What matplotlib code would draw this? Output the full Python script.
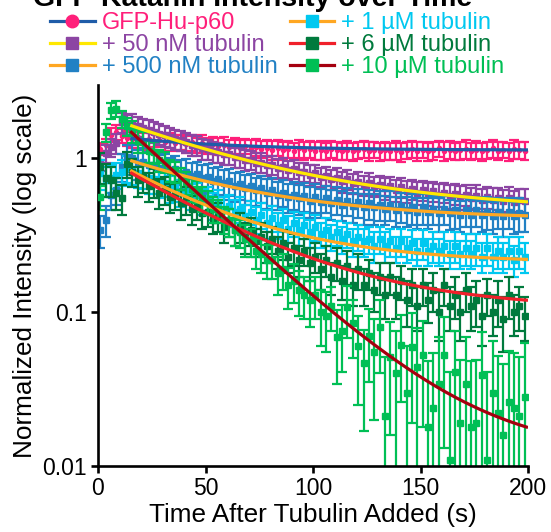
import numpy as np
import matplotlib
matplotlib.use("Agg")
import matplotlib.pyplot as plt
from matplotlib.lines import Line2D
from matplotlib.ticker import FixedLocator, NullLocator, FixedFormatter

plt.rcParams['font.family'] = ['Liberation Sans', 'DejaVu Sans']

# ---------------- data ----------------
time = 1 + 2.5 * np.arange(80)   # s, sampling every 2.5 s

labels = ["GFP-Hu-p60", "+ 50 nM tubulin", "+ 500 nM tubulin",
          "+ 1 µM tubulin", "+ 6 µM tubulin", "+ 10 µM tubulin"]

pink = [1.15, 1.22, 1.42, 1.48, 1.40, 1.36,
        1.33, 1.38, 1.30, 1.34, 1.29, 1.32, 1.27, 1.31, 1.26, 1.28,
        1.24, 1.27, 1.22, 1.25, 1.21, 1.24, 1.20, 1.22, 1.18, 1.21,
        1.17, 1.20, 1.16, 1.19, 1.15, 1.17, 1.14, 1.17, 1.13, 1.15,
        1.12, 1.16, 1.13, 1.15, 1.12, 1.14, 1.11, 1.15, 1.13, 1.12,
        1.14, 1.11, 1.13, 1.15, 1.12, 1.14, 1.11, 1.13, 1.12, 1.14,
        1.10, 1.13, 1.15, 1.12, 1.14, 1.11, 1.13, 1.16, 1.12, 1.14,
        1.11, 1.13, 1.15, 1.12, 1.14, 1.11, 1.13, 1.16, 1.12, 1.14,
        1.11, 1.15, 1.13, 1.12]
pink_err = [0.10, 0.12, 0.15, 0.16, 0.15, 0.15,
            0.16, 0.15, 0.17, 0.15, 0.16, 0.14, 0.16, 0.15, 0.15, 0.14,
            0.16, 0.15, 0.14, 0.16, 0.15, 0.14, 0.15, 0.16, 0.14, 0.15,
            0.15, 0.14, 0.16, 0.15, 0.14, 0.15, 0.16, 0.14, 0.15, 0.15,
            0.14, 0.16, 0.15, 0.14, 0.15, 0.16, 0.14, 0.15, 0.15, 0.14,
            0.16, 0.15, 0.14, 0.15, 0.16, 0.14, 0.15, 0.15, 0.14, 0.16,
            0.15, 0.14, 0.15, 0.16, 0.14, 0.15, 0.15, 0.14, 0.16, 0.15,
            0.14, 0.15, 0.16, 0.14, 0.15, 0.15, 0.14, 0.16, 0.15, 0.14,
            0.15, 0.16, 0.14, 0.15]

purple = [0.95, 1.08, 1.18, 1.25, 1.72, 1.66,
          1.68, 1.62, 1.57, 1.53, 1.49, 1.45, 1.41, 1.37, 1.34, 1.31,
          1.27, 1.23, 1.21, 1.16, 1.15, 1.11, 1.10, 1.06, 1.06, 1.02,
          1.02, 0.98, 0.98, 0.94, 0.94, 0.90, 0.91, 0.86, 0.88, 0.84,
          0.85, 0.81, 0.82, 0.78, 0.80, 0.76, 0.77, 0.73, 0.75, 0.71,
          0.73, 0.69, 0.70, 0.67, 0.69, 0.66, 0.67, 0.64, 0.66, 0.62,
          0.65, 0.61, 0.63, 0.60, 0.62, 0.59, 0.61, 0.58, 0.60, 0.57,
          0.59, 0.56, 0.58, 0.55, 0.57, 0.54, 0.56, 0.54, 0.55, 0.53,
          0.55, 0.52, 0.54, 0.53]
purple_err = [0.12, 0.14, 0.16, 0.18, 0.25, 0.25,
              0.26, 0.25, 0.24, 0.24, 0.23, 0.22, 0.22, 0.21, 0.20, 0.20,
              0.19, 0.19, 0.18, 0.18, 0.17, 0.17, 0.16, 0.16, 0.16, 0.15,
              0.15, 0.15, 0.14, 0.14, 0.14, 0.13, 0.13, 0.13, 0.13, 0.12,
              0.12, 0.12, 0.12, 0.12, 0.11, 0.11, 0.11, 0.11, 0.11, 0.11,
              0.11, 0.10, 0.11, 0.10, 0.11, 0.10, 0.10, 0.10, 0.10, 0.10,
              0.10, 0.10, 0.09, 0.10, 0.09, 0.10, 0.09, 0.10, 0.09, 0.10,
              0.09, 0.10, 0.09, 0.09, 0.10, 0.09, 0.09, 0.10, 0.09, 0.09,
              0.10, 0.09, 0.09, 0.10]

blue = [0.34, 0.40, 0.58, 0.62, 0.88, 1.02,
        1.00, 0.93, 0.95, 0.90, 0.91, 0.86, 0.88, 0.83, 0.85, 0.80,
        0.82, 0.77, 0.79, 0.74, 0.76, 0.71, 0.73, 0.69, 0.71, 0.66,
        0.68, 0.64, 0.66, 0.62, 0.64, 0.60, 0.62, 0.58, 0.60, 0.56,
        0.58, 0.55, 0.57, 0.53, 0.56, 0.52, 0.55, 0.51, 0.54, 0.50,
        0.53, 0.49, 0.52, 0.48, 0.51, 0.48, 0.50, 0.47, 0.50, 0.46,
        0.49, 0.46, 0.48, 0.45, 0.48, 0.45, 0.47, 0.44, 0.47, 0.44,
        0.46, 0.43, 0.46, 0.43, 0.46, 0.43, 0.45, 0.42, 0.45, 0.42,
        0.45, 0.42, 0.44, 0.43]
blue_err = [0.08, 0.09, 0.12, 0.12, 0.18, 0.20,
            0.22, 0.21, 0.21, 0.20, 0.20, 0.19, 0.19, 0.18, 0.18, 0.17,
            0.17, 0.17, 0.16, 0.16, 0.16, 0.15, 0.15, 0.15, 0.14, 0.14,
            0.14, 0.14, 0.13, 0.13, 0.13, 0.13, 0.13, 0.12, 0.12, 0.12,
            0.12, 0.12, 0.12, 0.12, 0.12, 0.11, 0.11, 0.11, 0.11, 0.11,
            0.11, 0.11, 0.11, 0.11, 0.11, 0.11, 0.11, 0.10, 0.11, 0.10,
            0.11, 0.10, 0.11, 0.10, 0.11, 0.10, 0.10, 0.11, 0.10, 0.10,
            0.11, 0.10, 0.10, 0.11, 0.10, 0.10, 0.11, 0.10, 0.10, 0.11,
            0.10, 0.10, 0.11, 0.10]

cyan = [0.80, 0.72, 0.75, 0.78, 0.82, 0.86,
        0.84, 0.80, 0.78, 0.74, 0.73, 0.69, 0.69, 0.64, 0.65, 0.60,
        0.62, 0.57, 0.58, 0.53, 0.55, 0.50, 0.52, 0.47, 0.49, 0.45,
        0.47, 0.42, 0.45, 0.40, 0.43, 0.38, 0.41, 0.37, 0.40, 0.35,
        0.38, 0.34, 0.37, 0.33, 0.36, 0.32, 0.34, 0.31, 0.33, 0.30,
        0.32, 0.29, 0.31, 0.29, 0.30, 0.27, 0.30, 0.27, 0.29, 0.26,
        0.29, 0.26, 0.28, 0.25, 0.28, 0.25, 0.27, 0.25, 0.27, 0.24,
        0.27, 0.24, 0.26, 0.24, 0.26, 0.23, 0.26, 0.23, 0.25, 0.23,
        0.25, 0.22, 0.25, 0.23]
cyan_err = [0.18, 0.16, 0.15, 0.15, 0.16, 0.17,
            0.17, 0.16, 0.15, 0.15, 0.14, 0.14, 0.13, 0.13, 0.13, 0.12,
            0.12, 0.11, 0.11, 0.10, 0.10, 0.10, 0.10, 0.09, 0.09, 0.09,
            0.09, 0.08, 0.08, 0.08, 0.08, 0.08, 0.08, 0.07, 0.07, 0.07,
            0.07, 0.07, 0.07, 0.07, 0.07, 0.06, 0.07, 0.06, 0.06, 0.06,
            0.06, 0.06, 0.06, 0.06, 0.06, 0.06, 0.06, 0.06, 0.06, 0.05,
            0.06, 0.05, 0.06, 0.05, 0.06, 0.05, 0.06, 0.05, 0.06, 0.05,
            0.06, 0.05, 0.06, 0.05, 0.06, 0.05, 0.06, 0.05, 0.06, 0.05,
            0.06, 0.05, 0.06, 0.05]

dkgreen = [0.88, 0.74, 0.72, 0.60, 0.55, 0.92,
           0.82, 0.72, 0.76, 0.66, 0.70, 0.60, 0.63, 0.56, 0.58, 0.51,
           0.54, 0.47, 0.50, 0.44, 0.45, 0.40, 0.42, 0.36, 0.39, 0.34,
           0.36, 0.31, 0.34, 0.29, 0.31, 0.27, 0.30, 0.25, 0.28, 0.23,
           0.26, 0.22, 0.25, 0.21, 0.23, 0.19, 0.22, 0.17, 0.21, 0.16,
           0.20, 0.15, 0.19, 0.15, 0.18, 0.14, 0.17, 0.13, 0.17, 0.13,
           0.16, 0.12, 0.15, 0.11, 0.15, 0.12, 0.14, 0.10, 0.15, 0.11,
           0.13, 0.10, 0.14, 0.11, 0.12, 0.095, 0.13, 0.10, 0.12, 0.09,
           0.13, 0.10, 0.11, 0.095]
dkgreen_err = [0.20, 0.18, 0.16, 0.14, 0.12, 0.18,
               0.17, 0.16, 0.16, 0.14, 0.15, 0.13, 0.13, 0.12, 0.12, 0.11,
               0.11, 0.10, 0.10, 0.09, 0.09, 0.08, 0.09, 0.08, 0.08, 0.07,
               0.08, 0.07, 0.07, 0.06, 0.07, 0.06, 0.06, 0.06, 0.06, 0.05,
               0.06, 0.05, 0.05, 0.05, 0.05, 0.05, 0.05, 0.04, 0.05, 0.04,
               0.05, 0.04, 0.05, 0.04, 0.04, 0.04, 0.04, 0.04, 0.04, 0.04,
               0.04, 0.04, 0.04, 0.035, 0.04, 0.035, 0.04, 0.035, 0.04, 0.035,
               0.04, 0.035, 0.04, 0.035, 0.04, 0.035, 0.035, 0.03, 0.04, 0.035,
               0.04, 0.03, 0.035, 0.03]

green = [0.56, 1.48, 2.05, 2.10, 1.80, 1.62,
         1.50, 1.30, 1.28, 1.12, 1.10, 0.98, 0.95, 0.84, 0.82, 0.74,
         0.70, 0.63, 0.61, 0.55, 0.52, 0.47, 0.46, 0.40, 0.39, 0.34,
         0.33, 0.30, 0.29, 0.25, 0.24, 0.22, 0.22, 0.18, 0.19, 0.15,
         0.16, 0.14, 0.13, 0.12, 0.13, 0.10, 0.095, 0.11, 0.069, 0.076,
         0.108, 0.085, 0.060, 0.047, 0.070, 0.055, 0.080, 0.021, 0.051, 0.040,
         0.061, 0.030, 0.059, 0.044, 0.053, 0.018, 0.024, 0.034, 0.053, 0.011,
         0.041, 0.019, 0.034, 0.018, 0.019, 0.039, 0.011, 0.030, 0.022, 0.016,
         0.026, 0.024, 0.021, 0.028]
green_err = [0.10, 0.20, 0.25, 0.25, 0.22, 0.22,
             0.25, 0.22, 0.20, 0.18, 0.18, 0.16, 0.15, 0.14, 0.13, 0.12,
             0.12, 0.11, 0.10, 0.10, 0.09, 0.09, 0.08, 0.08, 0.08, 0.07,
             0.07, 0.07, 0.06, 0.06, 0.06, 0.055, 0.055, 0.05, 0.05, 0.045,
             0.045, 0.045, 0.04, 0.04, 0.04, 0.04, 0.04, 0.035, 0.035, 0.035,
             0.04, 0.035, 0.035, 0.03, 0.035, 0.035, 0.04, 0.03, 0.035, 0.035,
             0.035, 0.03, 0.04, 0.035, 0.035, 0.03, 0.03, 0.035, 0.04, 0.03,
             0.035, 0.03, 0.035, 0.03, 0.03, 0.035, 0.03, 0.035, 0.03, 0.03,
             0.03, 0.03, 0.03, 0.035]

# exponential-decay fits y = A*exp(-k*(t - t0)) + C, drawn from t0 to 200 s
fit_t0 = 15.0
fit_A = [0.22, 1.19, 0.57, 0.626, 0.705, 1.49]
fit_k = [0.020, 0.0152, 0.01734, 0.0222, 0.021, 0.030]
fit_C = [1.13, 0.45, 0.40, 0.21, 0.105, 0.012]

values = [pink, purple, blue, cyan, dkgreen, green]
errors = [pink_err, purple_err, blue_err, cyan_err, dkgreen_err, green_err]

# ---------------- style ----------------
data_colors = ["#FF1F7A", "#8C45A3", "#2281C4", "#00C8F0", "#007A3D", "#00BF55"]
fit_colors = ["#1F5CA8", "#FFE800", "#FFA722", "#FFA722", "#F0202A", "#A5000F"]
markers = ["o", "s", "s", "s", "s", "s"]
msizes = [3.0, 4.0, 4.0, 4.5, 5.0, 5.0]

fig = plt.figure(figsize=(5.51, 5.32), dpi=100)
ax = fig.add_axes([98 / 551, 1 - 466 / 532, 430 / 551, (466 - 85) / 532])
ax.set_yscale("log", nonpositive="clip")

for i in range(6):
    ax.errorbar(time, values[i], yerr=errors[i], fmt=markers[i], color=data_colors[i],
                ms=msizes[i], elinewidth=1.6, capsize=3.5, capthick=1.6,
                zorder=2 + i * 0.1, clip_on=True)

tf = np.linspace(fit_t0, 200, 200)
for i in range(6):
    ax.plot(tf, fit_A[i] * np.exp(-fit_k[i] * (tf - fit_t0)) + fit_C[i],
            color=fit_colors[i], lw=2.3, zorder=5, solid_capstyle="butt")

ax.set_xlim(0, 200)
ax.set_ylim(0.01, 3.0)
ax.xaxis.set_major_locator(FixedLocator([0, 50, 100, 150, 200]))
ax.yaxis.set_major_locator(FixedLocator([0.01, 0.1, 1]))
ax.yaxis.set_major_formatter(FixedFormatter(["0.01", "0.1", "1"]))
ax.yaxis.set_minor_locator(NullLocator())
for s in ["top", "right"]:
    ax.spines[s].set_visible(False)
for s in ["left", "bottom"]:
    ax.spines[s].set_linewidth(1.9)
ax.tick_params(axis="both", which="major", direction="out", length=5, width=1.9,
               labelsize=16.5, pad=3, colors="black")

ax.set_xlabel("Time After Tubulin Added (s)", fontsize=18.8, labelpad=2)
ax.set_ylabel("Normalized Intensity (log scale)", fontsize=18.8, labelpad=4)

fig.text(253 / 551, 1 - 6 / 532, "GFP-Katanin Intensity over Time", fontsize=20.5,
         fontweight="bold", ha="center", va="baseline")

handles = []
for i in range(6):
    handles.append(Line2D([], [], color=fit_colors[i], lw=2.3, marker=markers[i],
                          mfc=data_colors[i], mec=data_colors[i], ms=9))
fig.legend(handles, labels, ncol=2, loc="upper left",
           bbox_to_anchor=(50 / 551, 1 - 12 / 532), frameon=False,
           fontsize=17, labelcolor=data_colors, handlelength=1.9,
           handletextpad=0.3, columnspacing=0.5, labelspacing=0.0,
           borderpad=0.0, borderaxespad=0.0)

fig.savefig("out.png", dpi=100)
